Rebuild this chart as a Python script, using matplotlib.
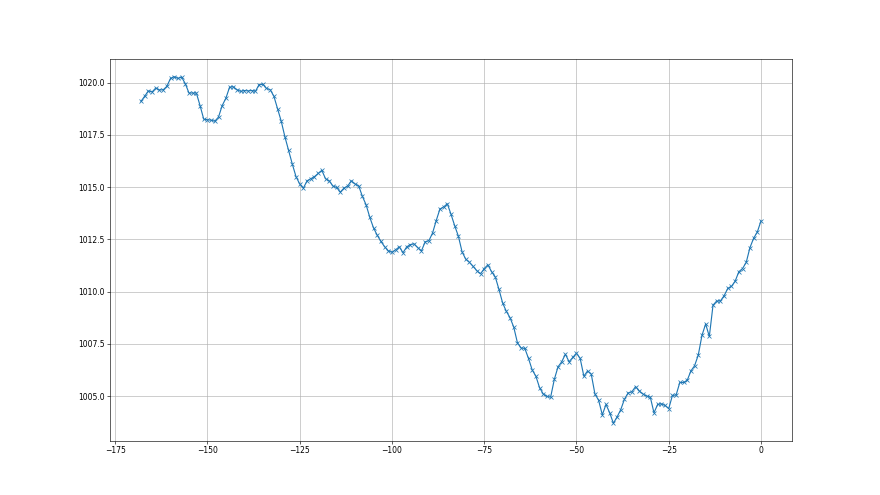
import numpy as np
import matplotlib
matplotlib.use("Agg")
import matplotlib.pyplot as plt

# hours before now, pressure (hPa)
hours = np.arange(-168, 1)
pressure = [
    1019.10, 1019.35, 1019.60, 1019.55, 1019.74, 1019.65, 1019.65, 1019.82,
    1020.20, 1020.28, 1020.20, 1020.26, 1019.95, 1019.50, 1019.50, 1019.50,
    1018.90, 1018.25, 1018.22, 1018.20, 1018.15, 1018.35, 1018.90, 1019.25,
    1019.78, 1019.80, 1019.66, 1019.58, 1019.62, 1019.60, 1019.62, 1019.58,
    1019.90, 1019.92, 1019.72, 1019.66, 1019.35, 1018.75, 1018.15, 1017.40,
    1016.75, 1016.10, 1015.50, 1015.15, 1014.95, 1015.30, 1015.40, 1015.50,
    1015.65, 1015.80, 1015.40, 1015.30, 1015.05, 1014.98, 1014.76, 1014.95,
    1015.05, 1015.30, 1015.15, 1015.05, 1014.55, 1014.15, 1013.55, 1013.05,
    1012.70, 1012.40, 1012.15, 1011.95, 1011.88, 1012.00, 1012.14, 1011.86,
    1012.14, 1012.25, 1012.28, 1012.10, 1011.95, 1012.38, 1012.43, 1012.80,
    1013.40, 1013.95, 1014.05, 1014.20, 1013.70, 1013.15, 1012.65, 1011.90,
    1011.55, 1011.40, 1011.20, 1011.00, 1010.85, 1011.10, 1011.28, 1010.95,
    1010.70, 1010.10, 1009.45, 1009.05, 1008.75, 1008.30, 1007.55, 1007.30,
    1007.28, 1006.80, 1006.25, 1005.95, 1005.40, 1005.10, 1004.98, 1004.95,
    1005.80, 1006.40, 1006.64, 1007.00, 1006.64, 1006.85, 1007.05, 1006.80,
    1005.95, 1006.20, 1006.05, 1005.10, 1004.80, 1004.10, 1004.60, 1004.20,
    1003.70, 1004.00, 1004.35, 1004.85, 1005.15, 1005.20, 1005.45, 1005.25,
    1005.10, 1005.00, 1004.95, 1004.20, 1004.60, 1004.63, 1004.55, 1004.40,
    1005.03, 1005.05, 1005.65, 1005.65, 1005.75, 1006.20, 1006.45, 1006.96,
    1007.90, 1008.45, 1007.85, 1009.35, 1009.55, 1009.55, 1009.80, 1010.15,
    1010.25, 1010.50, 1010.95, 1011.10, 1011.40, 1012.10, 1012.55, 1012.85,
    1013.38,
]

fig = plt.figure(figsize=(16, 9), dpi=55)
plt.plot(hours, pressure, marker='x', markersize=6, linewidth=1.5, color='#1f77b4')
plt.grid(True)
plt.savefig('out.png', dpi=55)
